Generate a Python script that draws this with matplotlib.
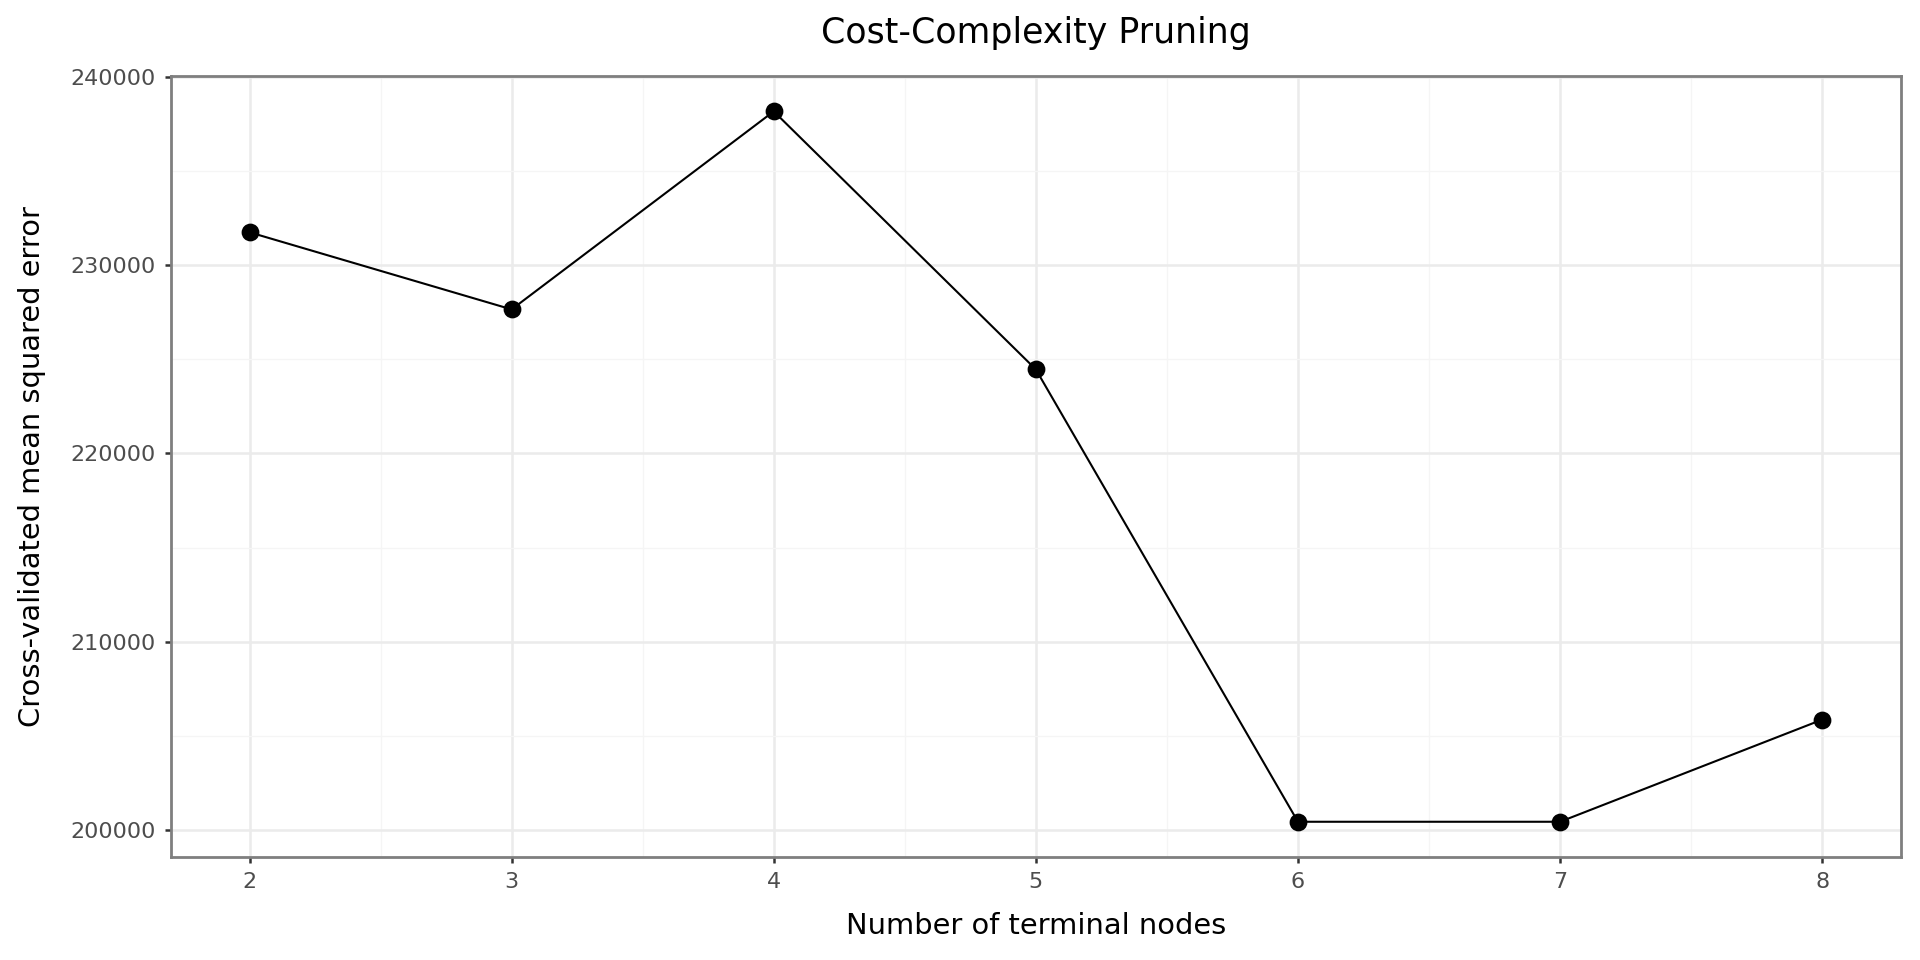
import numpy as np
import matplotlib
matplotlib.use("Agg")
import matplotlib.pyplot as plt
from matplotlib.ticker import MultipleLocator

# values
nodes = [2, 3, 4, 5, 6, 7, 8]
cv_mse = [231760, 227660, 238190, 224470, 200420, 200420, 205850]
y_ticks = [200000, 210000, 220000, 230000, 240000]

plt.rcParams['font.family'] = ['DejaVu Sans']

fig = plt.figure(figsize=(9.6, 4.8), dpi=200)
ax = fig.add_axes([0.089, 0.107, 0.901, 0.814])

ax.plot(nodes, cv_mse, color='black', lw=0.75, zorder=3)
ax.plot(nodes, cv_mse, 'o', color='black', ms=5.4, zorder=4)

span = max(cv_mse) - min(cv_mse)
ax.set_ylim(min(cv_mse) - 0.05 * span, max(cv_mse) + 0.05 * span)
ax.set_xlim(nodes[0] - 0.05 * (nodes[-1] - nodes[0]), nodes[-1] + 0.05 * (nodes[-1] - nodes[0]))
ax.set_xticks(nodes)
ax.set_yticks(y_ticks)
ax.xaxis.set_minor_locator(MultipleLocator(0.5))
ax.yaxis.set_minor_locator(MultipleLocator(5000))

ax.grid(which='major', color='#EBEBEB', lw=0.9)
ax.grid(which='minor', color='#F5F5F5', lw=0.45)
ax.set_axisbelow(True)
for s in ax.spines.values():
    s.set_color('#7F7F7F')
    s.set_linewidth(1.0)

ax.tick_params(which='major', length=2.2, width=0.9, color='#333333',
               labelcolor='#4D4D4D', labelsize=8.0, pad=3.2)
ax.tick_params(which='minor', length=0)

ax.set_title("Cost-Complexity Pruning", fontsize=12.5, pad=12)
ax.set_xlabel("Number of terminal nodes", fontsize=10.4, labelpad=7)
ax.set_ylabel("Cross-validated mean squared error", fontsize=10.4, labelpad=9)

fig.savefig("out.png", dpi=200)
